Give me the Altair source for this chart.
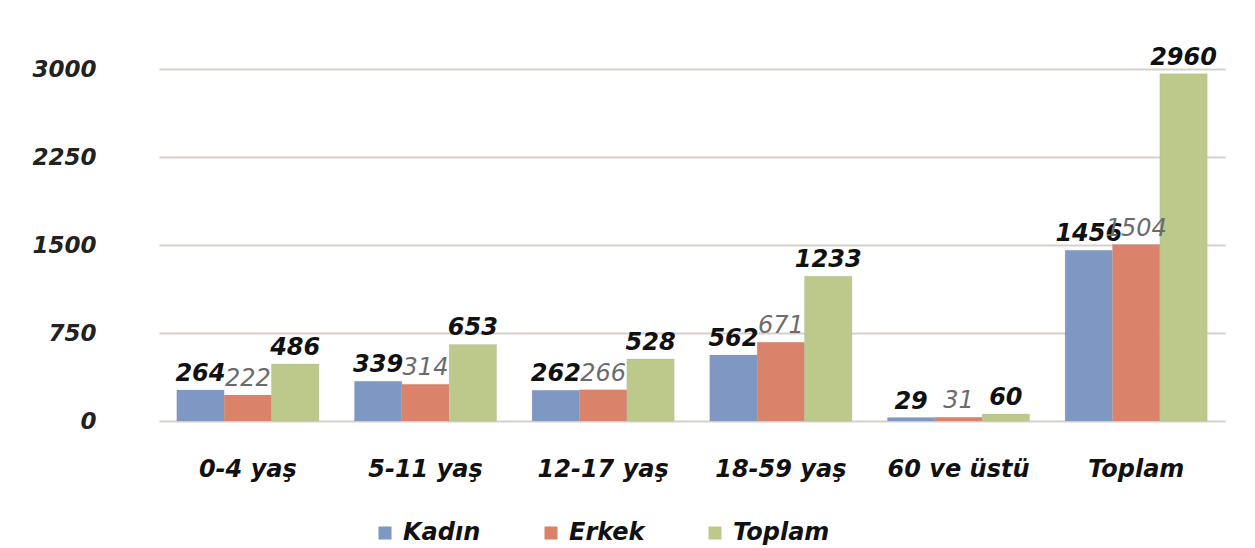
import altair as alt
import pandas as pd

categories = ["0-4 yaş", "5-11 yaş", "12-17 yaş", "18-59 yaş", "60 ve üstü", "Toplam"]
series = ["Kadın", "Erkek", "Toplam"]
kadin = [264, 339, 262, 562, 29, 1456]
erkek = [222, 314, 266, 671, 31, 1504]
toplam = [486, 653, 528, 1233, 60, 2960]
y_ticks = [0, 750, 1500, 2250, 3000]
colors = ["#7F97C3", "#DA836A", "#BDC98B"]

rows = []
for s, vals in zip(series, [kadin, erkek, toplam]):
    for c, v in zip(categories, vals):
        rows.append({"cat": c, "series": s, "value": v})
df = pd.DataFrame(rows)

FONT = "DejaVu Sans"

x_enc = alt.X(
    "cat:N",
    sort=categories,
    title=None,
    scale=alt.Scale(paddingInner=0.2, paddingOuter=0.1),
    axis=alt.Axis(labelAngle=0, domain=False, ticks=False, labelPadding=36,
                  labelFont=FONT, labelFontSize=24, labelFontWeight="bold",
                  labelFontStyle="italic", labelColor="#111111"),
)
xoff_enc = alt.XOffset("series:N", sort=series, scale=alt.Scale(paddingInner=0, paddingOuter=0))
y_enc = alt.Y(
    "value:Q",
    title=None,
    scale=alt.Scale(domain=[0, 3000], nice=False),
    axis=alt.Axis(values=y_ticks, grid=True, gridColor="#d8cfcb", gridWidth=2,
                  domain=False, ticks=False, labelPadding=63, format="d",
                  labelFont=FONT, labelFontSize=23, labelFontWeight="bold",
                  labelFontStyle="italic", labelColor="#222222"),
)

base = alt.Chart(df).encode(x=x_enc, xOffset=xoff_enc, y=y_enc)

bars = base.mark_bar(stroke="#9aa0a0", strokeWidth=0.5, strokeOpacity=0.4).encode(
    color=alt.Color(
        "series:N",
        sort=series,
        scale=alt.Scale(domain=series, range=colors),
        legend=alt.Legend(title=None, orient="none", direction="horizontal",
                          legendX=214, legendY=452, symbolType="square",
                          symbolSize=170, symbolStrokeWidth=0,
                          labelFont=FONT, labelFontSize=24, labelFontWeight="bold",
                          labelFontStyle="italic", labelColor="#111111",
                          columnPadding=58, labelOffset=6),
    )
)

bold_labels = base.mark_text(
    baseline="bottom", dy=-4, font=FONT, fontSize=24, fontWeight="bold",
    fontStyle="italic", color="#111111"
).encode(text="value:Q").transform_filter(alt.datum.series != "Erkek")

light_labels = base.mark_text(
    baseline="bottom", dy=-4, font=FONT, fontSize=24, fontWeight="normal",
    fontStyle="italic", color="#6b6b6b"
).encode(text="value:Q").transform_filter(alt.datum.series == "Erkek")

chart = alt.layer(bars, bold_labels, light_labels).properties(
    width=1066,
    height=352,
    padding={"left": 23, "top": 37, "right": 8, "bottom": 2},
    background="white",
).configure_view(stroke=None)

chart.save("out.html", embed_options={"renderer": "svg", "actions": False})
